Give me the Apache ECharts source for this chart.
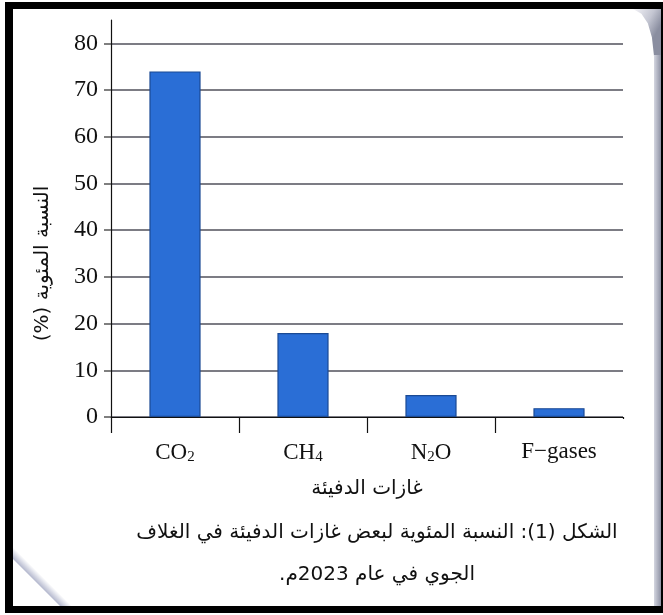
<!DOCTYPE html>
<html>
<head>
<meta charset="utf-8">
<script src="https://cdn.jsdelivr.net/npm/echarts@6/dist/echarts.min.js"></script>
<style>
html,body{margin:0;padding:0;background:#ffffff;}
#chart{width:663px;height:615px;}
</style>
</head>
<body>
<div id="chart"></div>
<script>
var categories = ['CO2', 'CH4', 'N2O', 'F-gases'];
var categoryLabels = ['{n|CO}{s|2}', '{n|CH}{s|4}', '{n|N}{s|2}{n|O}', '{n|F\u2212gases}'];
var values = [74, 18, 4.7, 1.9];
var yTicks = [0, 10, 20, 30, 40, 50, 60, 70, 80];
var yAxisTitle = '\u200Fالنسبة المئوية (%)\u200F';
var xAxisTitle = '\u200Fغازات الدفيئة\u200F';
var captionLines = ['\u200Fالشكل (1): النسبة المئوية لبعض غازات الدفيئة في الغلاف\u200F', '\u200Fالجوي في عام 2023م.\u200F'];

var serif = '"Liberation Serif", "DejaVu Serif", serif';
var arabic = '"DejaVu Sans", "Noto Sans", sans-serif';

var gridColors = yTicks.map(function () { return '#7c7c84'; });
gridColors.push('rgba(0,0,0,0)');

var chart = echarts.init(document.getElementById('chart'), null, {renderer: 'canvas'});
chart.setOption({
  backgroundColor: '#ffffff',
  animation: false,
  graphic: [
    {type: 'rect', z: -10, shape: {x: 5, y: 2, width: 658, height: 611}, style: {fill: '#000000'}},
    {type: 'rect', z: -9, shape: {x: 13, y: 9, width: 648, height: 597}, style: {fill: '#ffffff'}},
    {type: 'polygon', z: -8, shape: {points: [[633, 9], [641.4, 13.8], [647.8, 23.3], [651.9, 37.3], [654, 56], [661, 60], [661, 9]]},
      style: {fill: new echarts.graphic.LinearGradient(0, 0, 1, 0.3, [{offset: 0, color: '#f4f4f8'}, {offset: 0.6, color: '#c4c6d2'}, {offset: 1, color: '#8a8ea0'}])}},
    {type: 'rect', z: -8, shape: {x: 654, y: 55, width: 7, height: 551},
      style: {fill: new echarts.graphic.LinearGradient(0, 0, 1, 0, [{offset: 0, color: '#d4d6e0'}, {offset: 1, color: '#8e92a4'}])}},
    {type: 'polygon', z: -8, shape: {points: [[13, 559], [60, 606], [72, 606], [13, 547]]},
      style: {fill: new echarts.graphic.LinearGradient(0, 1, 1, 0, [{offset: 0.4, color: '#b4b8ce'}, {offset: 0.5, color: '#ffffff'}])}},
    {type: 'rect', z: 50, shape: {x: 620, y: 419, width: 8, height: 18}, style: {fill: '#ffffff'}}
  ],
  title: {
    text: captionLines.join('\n'),
    left: 372,
    top: 507,
    textAlign: 'center',
    textStyle: {fontFamily: arabic, fontSize: 20, fontWeight: 'normal', color: '#111111', lineHeight: 42}
  },
  grid: {left: 111, right: 40, top: 20, bottom: 198, containLabel: false},
  xAxis: {
    type: 'category',
    data: categories,
    boundaryGap: true,
    name: xAxisTitle,
    nameLocation: 'middle',
    nameGap: 62,
    nameTextStyle: {fontFamily: arabic, fontSize: 20, color: '#111111'},
    axisLine: {lineStyle: {color: '#111111', width: 1.2}},
    axisTick: {show: true, length: 16, alignWithLabel: false, lineStyle: {color: '#111111', width: 1.2}},
    axisLabel: {
      margin: 23,
      formatter: function (v, i) { return categoryLabels[i]; },
      rich: {
        n: {fontFamily: serif, fontSize: 23, color: '#111111'},
        s: {fontFamily: serif, fontSize: 15, color: '#111111', padding: [10, 0, 0, 0]}
      }
    }
  },
  yAxis: {
    type: 'value',
    min: 0,
    max: 85,
    interval: 10,
    name: yAxisTitle,
    nameLocation: 'middle',
    nameGap: 58,
    nameTextStyle: {fontFamily: arabic, fontSize: 20, color: '#111111', padding: [0, 90, 0, 0]},
    axisLine: {show: true, lineStyle: {color: '#111111', width: 1.2}},
    axisTick: {show: true, length: 7, lineStyle: {color: '#555555', width: 1.5}},
    axisLabel: {showMaxLabel: false, margin: 13, fontFamily: serif, fontSize: 24, color: '#111111'},
    splitLine: {show: true, lineStyle: {color: gridColors, width: 2}}
  },
  series: [{
    type: 'bar',
    data: values,
    barWidth: '40%',
    itemStyle: {color: '#2a6ed6', borderColor: '#1b4a94', borderWidth: 1.2}
  }]
});
</script>
</body>
</html>
